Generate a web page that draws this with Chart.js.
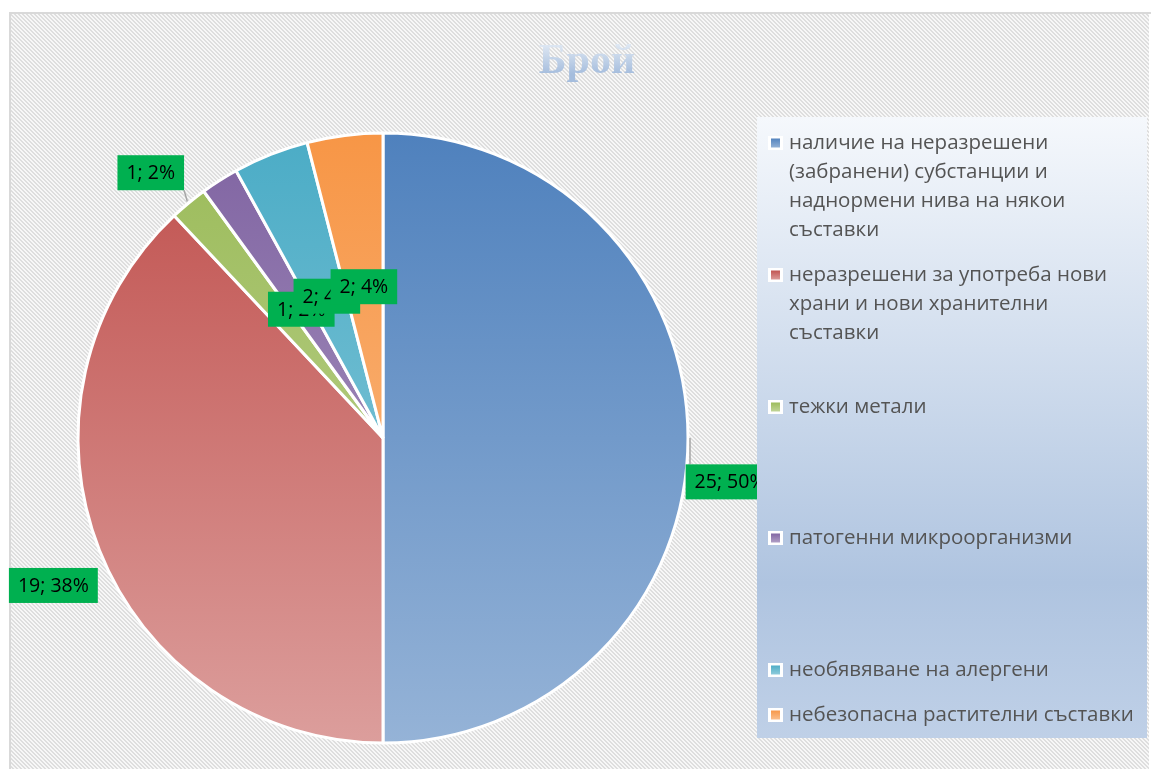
<!DOCTYPE html>
<html>
<head>
<meta charset="utf-8">
<script src="https://cdn.jsdelivr.net/npm/chart.js@4.4.1/dist/chart.umd.min.js"></script>
<style>
  html, body { margin: 0; padding: 0; background: #fff; }
  #wrap { width: 1151px; height: 769px; }
</style>
</head>
<body>
<div id="wrap"><canvas id="pieChart" width="1151" height="769"></canvas></div>
<script>
// categories (already wrapped the way the legend shows them)
const categories = [
    ["наличие на неразрешени", "(забранени) субстанции и", "наднормени нива на някои", "съставки"],
    ["неразрешени за употреба нови", "храни и нови хранителни", "съставки"],
    ["тежки метали"],
    ["патогенни микроорганизми"],
    ["необявяване на алергени"],
    ["небезопасна растителни съставки"]
];
const counts = [25, 19, 1, 1, 2, 2];
const chartTitle = "Брой";

const baseColors = ["#4f81bd", "#c0504d", "#9bbb59", "#8064a2", "#4bacc6", "#f79646"];
const lightColors = ["#95b3d7", "#dc9e9c", "#c3d69b", "#b2a1c7", "#92cddc", "#fac08f"];

// where each data label sits: radius factor, angle shift (deg), leader line
const labelPlace = [
    { r: 1.147, shift: 7.2, leader: true },
    { r: 1.184, shift: -2.5, leader: false },
    { r: 1.156, shift: -1.6, leader: true },
    { r: 0.5, shift: 0, leader: false },
    { r: 0.5, shift: 0, leader: false },
    { r: 0.5, shift: 0, leader: false }
];

const total = counts.reduce((a, b) => a + b, 0);

function sliceFill(c) {
    const area = c.chart.chartArea;
    if (!area) return baseColors[c.dataIndex];
    const g = c.chart.ctx.createLinearGradient(0, area.top, 0, area.bottom);
    g.addColorStop(0, baseColors[c.dataIndex]);
    g.addColorStop(1, lightColors[c.dataIndex]);
    return g;
}

function hatchPattern(ctx) {
    const c = document.createElement("canvas");
    c.width = 4; c.height = 4;
    const p = c.getContext("2d");
    for (let y = 0; y < 4; y++) {
        for (let x = 0; x < 4; x++) {
            p.fillStyle = ((x - y + 8) % 4) < 2 ? "#dedede" : "#f7f7f7";
            p.fillRect(x, y, 1, 1);
        }
    }
    return ctx.createPattern(c, "repeat");
}

const background = {
    id: "background",
    beforeDraw(chart) {
        const ctx = chart.ctx;
        ctx.save();
        ctx.fillStyle = "#fff";
        ctx.fillRect(0, 0, chart.width, chart.height);
        ctx.fillStyle = "#d9d9d9";
        ctx.fillRect(9, 12, chart.width - 9, 2);
        ctx.fillRect(9, 12, 2, chart.height - 12);
        ctx.fillStyle = hatchPattern(ctx);
        ctx.fillRect(11, 14, chart.width - 13, chart.height - 14);
        ctx.restore();
    }
};

const sliceLabels = {
    id: "sliceLabels",
    afterDatasetsDraw(chart) {
        const ctx = chart.ctx;
        const meta = chart.getDatasetMeta(0);
        ctx.save();
        ctx.font = '19.5px "Open Sans"';
        ctx.textAlign = "center";
        ctx.textBaseline = "middle";
        meta.data.forEach((arc, i) => {
            const p = labelPlace[i];
            const mid = (arc.startAngle + arc.endAngle) / 2;
            const ang = mid + p.shift * Math.PI / 180;
            const R = arc.outerRadius;
            const cx = arc.x + Math.cos(ang) * R * p.r;
            const cy = arc.y + Math.sin(ang) * R * p.r;
            const text = counts[i] + "; " + Math.round(counts[i] / total * 100) + "%";
            const bw = ctx.measureText(text).width + 18, bh = 35;
            const bx = cx - bw / 2, by = cy - bh / 2;
            if (p.leader) {
                const ex = arc.x + Math.cos(mid) * (R + 2);
                const ey = arc.y + Math.sin(mid) * (R + 2);
                const lx = Math.min(Math.max(ex, bx), bx + bw);
                const ly = Math.min(Math.max(ey, by), by + bh);
                ctx.strokeStyle = "#a6a6a6";
                ctx.lineWidth = 1.5;
                ctx.beginPath();
                ctx.moveTo(ex, ey);
                ctx.lineTo(lx, ly);
                ctx.stroke();
            }
            ctx.fillStyle = "#00b050";
            ctx.fillRect(bx, by, bw, bh);
            ctx.fillStyle = "#000";
            ctx.fillText(text, cx, cy + 1);
        });
        ctx.restore();
    }
};

const legendBox = {
    id: "legendBox",
    afterDraw(chart) {
        const ctx = chart.ctx;
        const x = 757, y = 117, w = 390, h = 621;
        const rowTop = [26, 158, 290, 421, 553, 598];
        ctx.save();
        const g = ctx.createLinearGradient(0, y, 0, y + h);
        g.addColorStop(0, "#f5f8fc");
        g.addColorStop(0.75, "#afc4e0");
        g.addColorStop(1, "#bfd0e7");
        ctx.fillStyle = g;
        ctx.fillRect(x, y, w, h);

        ctx.font = '20.5px "Open Sans"';
        ctx.textBaseline = "middle";
        ctx.textAlign = "left";
        chart.data.labels.forEach((lines, i) => {
            const ty = y + rowTop[i];
            ctx.fillStyle = "#fff";
            ctx.fillRect(x + 11, ty - 7, 15, 14);
            const mg = ctx.createLinearGradient(0, ty - 5, 0, ty + 5);
            mg.addColorStop(0, baseColors[i]);
            mg.addColorStop(1, lightColors[i]);
            ctx.fillStyle = mg;
            ctx.fillRect(x + 14, ty - 4.5, 9, 9);
            ctx.fillStyle = "#545454";
            lines.forEach((t, k) => ctx.fillText(t, x + 32, ty + k * 29));
        });

        // title
        ctx.font = 'bold 42px "Liberation Serif"';
        ctx.textAlign = "center";
        ctx.textBaseline = "alphabetic";
        const tg = ctx.createLinearGradient(0, 44, 0, 74);
        tg.addColorStop(0, "#dfe8f3");
        tg.addColorStop(1, "#a5bddd");
        ctx.fillStyle = tg;
        ctx.fillText(chartTitle, 587, 73);
        ctx.restore();
    }
};

new Chart(document.getElementById("pieChart").getContext("2d"), {
    type: "pie",
    data: {
        labels: categories,
        datasets: [{
            data: counts,
            backgroundColor: sliceFill,
            borderColor: "#fff",
            borderWidth: 3,
            radius: 305
        }]
    },
    options: {
        responsive: false,
        animation: false,
        layout: { padding: { left: 78, top: 133, right: 463, bottom: 26 } },
        plugins: {
            legend: { display: false },
            tooltip: { enabled: false },
            title: { display: false }
        }
    },
    plugins: [background, sliceLabels, legendBox]
});
</script>
</body>
</html>
